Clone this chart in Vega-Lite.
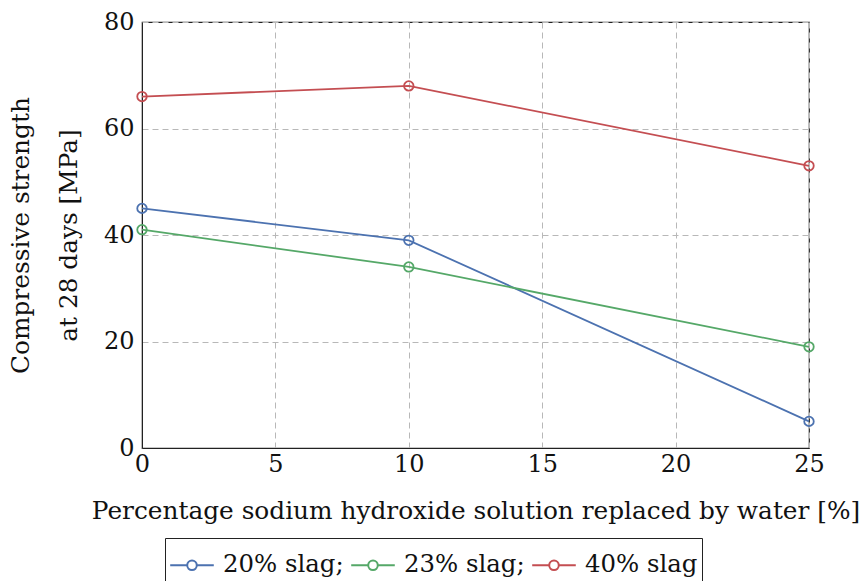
{
  "$schema": "https://vega.github.io/schema/vega-lite/v6.json",
  "autosize": "none",
  "width": 667,
  "height": 426,
  "padding": {"left": 142, "top": 22, "right": 51, "bottom": 133},
  "background": "white",
  "config": {
    "font": "DejaVu Serif",
    "view": {"stroke": "#222", "strokeWidth": 1.2},
    "axis": {
      "labelFont": "DejaVu Serif",
      "titleFont": "DejaVu Serif",
      "labelFontSize": 24,
      "titleFontSize": 24.8,
      "labelColor": "#111",
      "titleColor": "#111",
      "titleFontWeight": "normal",
      "domainColor": "#222",
      "gridColor": "#b8b8b8",
      "gridDash": [6, 4],
      "gridWidth": 1,
      "ticks": false
    },
    "legend": {
      "labelFont": "DejaVu Serif",
      "labelFontSize": 24.4,
      "labelColor": "#111"
    }
  },
  "data": {
    "values": [
      {"pct": 0, "strength": 45, "series": "20% slag;"},
      {"pct": 10, "strength": 39, "series": "20% slag;"},
      {"pct": 25, "strength": 5, "series": "20% slag;"},
      {"pct": 0, "strength": 41, "series": "23% slag;"},
      {"pct": 10, "strength": 34, "series": "23% slag;"},
      {"pct": 25, "strength": 19, "series": "23% slag;"},
      {"pct": 0, "strength": 66, "series": "40% slag"},
      {"pct": 10, "strength": 68, "series": "40% slag"},
      {"pct": 25, "strength": 53, "series": "40% slag"}
    ]
  },
  "encoding": {
    "x": {
      "field": "pct",
      "type": "quantitative",
      "scale": {"domain": [0, 25], "nice": false},
      "axis": {
        "values": [0, 5, 10, 15, 20, 25],
        "title": "Percentage sodium hydroxide solution replaced by water [%]",
        "labelPadding": 4,
        "titlePadding": 22,
        "labelFlush": false
      }
    },
    "y": {
      "field": "strength",
      "type": "quantitative",
      "scale": {"domain": [0, 80], "nice": false},
      "axis": {
        "values": [0, 20, 40, 60, 80],
        "title": ["Compressive strength", "at 28 days [MPa]"],
        "titleLineHeight": 48,
        "labelPadding": 8,
        "titlePadding": 22,
        "labelFlush": false
      }
    },
    "color": {
      "field": "series",
      "type": "nominal",
      "scale": {
        "domain": ["20% slag;", "23% slag;", "40% slag"],
        "range": ["#4c72b0", "#55a868", "#c44e52"]
      },
      "legend": {
        "title": null,
        "orient": "none",
        "direction": "horizontal",
        "legendX": 23,
        "legendY": 516,
        "strokeColor": "#222",
        "padding": 4,
        "symbolType": "M-1,0H-0.22M0.22,0H1M0.22,0A0.22,0.22 0 1,1 -0.22,0A0.22,0.22 0 1,1 0.22,0",
        "symbolSize": 1900,
        "symbolFillColor": "transparent",
        "symbolStrokeWidth": 2,
        "labelOffset": 8,
        "columnPadding": 3
      }
    }
  },
  "layer": [
    {"mark": {"type": "line", "strokeWidth": 1.8}},
    {"mark": {"type": "point", "shape": "circle", "filled": false, "size": 90, "strokeWidth": 1.8, "opacity": 1}}
  ]
}
